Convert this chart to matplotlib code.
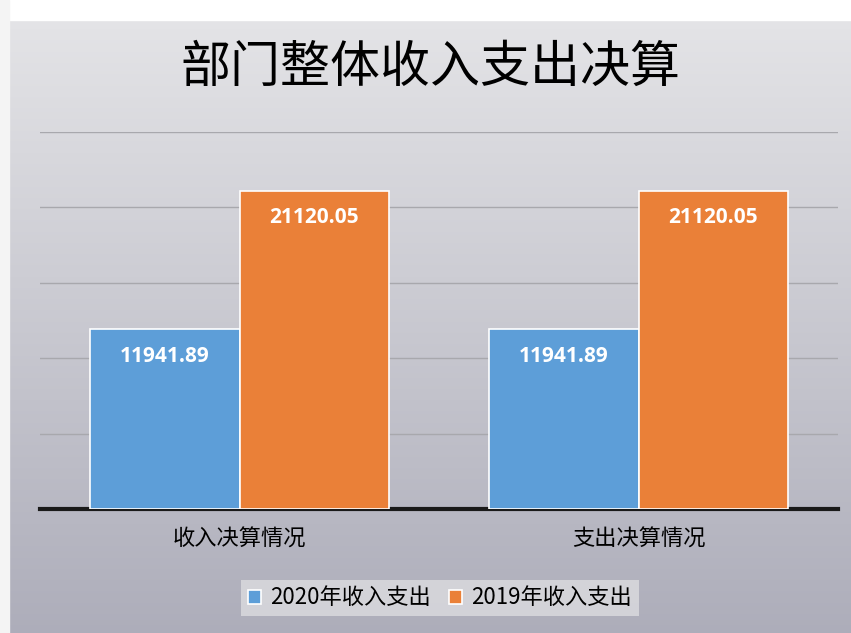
import numpy as np
import matplotlib
matplotlib.use('Agg')
from matplotlib import pyplot as plt
from matplotlib.patches import Rectangle

plt.rcParams['font.family'] = ['Noto Sans CJK SC', 'DejaVu Sans']

title = '部门整体收入支出决算'
categories = ['收入决算情况', '支出决算情况']
series_names = ['2020年收入支出', '2019年收入支出']
values_2020 = [11941.89, 11941.89]
values_2019 = [21120.05, 21120.05]
colors = ['#5d9ed8', '#ea8038']

fig = plt.figure(figsize=(8.51, 6.33), dpi=100)

# gray gradient backdrop like the printed page
bg = fig.add_axes([0, 0, 1, 1])
grad = np.linspace(0, 1, 256).reshape(-1, 1)
top = np.array([0.90, 0.90, 0.91])
bottom = np.array([0.68, 0.68, 0.73])
img = top + (bottom - top) * grad[..., None]
bg.imshow(img, aspect='auto', extent=[0, 1, 0, 1], origin='upper')
bg.add_patch(Rectangle((0, 1 - 20 / 633), 1, 1, color='white'))
bg.add_patch(Rectangle((0, 0), 9 / 851, 1, color='#f4f4f4'))
bg.set_xlim(0, 1)
bg.set_ylim(0, 1)
bg.axis('off')

ax = fig.add_axes([40 / 851, 124 / 633, 798 / 851, 377 / 633])
ax.patch.set_alpha(0)
x = np.arange(len(categories))
w = 0.375
b1 = ax.bar(x - w / 2, values_2020, w, color=colors[0], edgecolor='white', linewidth=1.2,
            label=series_names[0], zorder=3)
b2 = ax.bar(x + w / 2, values_2019, w, color=colors[1], edgecolor='white', linewidth=1.2,
            label=series_names[1], zorder=3)
for bars in (b1, b2):
    for r in bars:
        ax.text(r.get_x() + r.get_width() / 2, r.get_height() - 1800, f'{r.get_height():.2f}',
                ha='center', va='center', color='white', fontsize=15, fontweight='bold',
                family=['Open Sans', 'DejaVu Sans'])

ax.set_xlim(-0.5, 1.5)
ax.set_ylim(0, 25000)
ax.set_yticks(np.arange(5000, 25001, 5000))
ax.yaxis.grid(True, color='#a8a8ad', linewidth=1, zorder=0)
ax.tick_params(left=False, labelleft=False, bottom=False)
ax.set_xticks(x)
ax.set_xticklabels(categories, fontsize=16)
ax.tick_params(axis='x', pad=10)
for s in ['left', 'right', 'top']:
    ax.spines[s].set_visible(False)
ax.spines['bottom'].set_linewidth(3)
ax.spines['bottom'].set_color('#1a1a1a')

fig.text(430 / 851, 1 - 68 / 633, title, ha='center', va='center', fontsize=36,
         fontweight='medium')

leg = fig.legend(handles=[b1, b2], loc='center', bbox_to_anchor=(440 / 851, 1 - 598 / 633),
                 ncol=2, fontsize=16, frameon=True, handlelength=0.6, handleheight=0.6,
                 columnspacing=0.8, handletextpad=0.4, borderpad=0.3, fancybox=False)
leg.get_frame().set_facecolor('#dcdce0')
leg.get_frame().set_edgecolor('none')

fig.savefig('out.png', dpi=100)
